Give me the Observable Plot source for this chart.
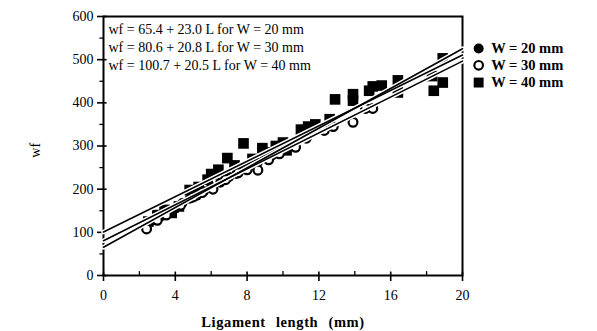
<!DOCTYPE html>
<html>
<head>
<meta charset="utf-8">
<script src="https://cdn.jsdelivr.net/npm/d3@7"></script>
<script src="https://cdn.jsdelivr.net/npm/@observablehq/plot@0.6"></script>
<style>
  html, body { margin: 0; padding: 0; background: white; }
  #chart { width: 597px; height: 331px; }
</style>
</head>
<body>
<div id="chart"></div>
<script>
// ---- data ----
const seriesNames = ["W = 20 mm", "W = 30 mm", "W = 40 mm"];
const equations = [
  "wf = 65.4 + 23.0 L for W = 20 mm",
  "wf = 80.6 + 20.8 L for W = 30 mm",
  "wf = 100.7 + 20.5 L for W = 40 mm"
];
const xTitle = "Ligament length (mm)";
const yTitle = "wf";
const intercepts = [65.4, 80.6, 100.7];
const slopes = [23.0, 20.8, 20.5];
const lineRange = [0, 20];

// W = 20 mm (filled circles)
const w20L  = [2.8, 3.2, 3.6, 4.0, 4.4, 4.8, 5.2, 5.6, 6.0, 6.5, 7.0, 7.4, 7.8, 8.2, 8.6, 9.0, 9.4, 9.8, 10.2];
const w20wf = [128, 137, 148, 155, 168, 178, 185, 195, 205, 215, 228, 235, 248, 255, 262, 272, 278, 290, 298];
// W = 30 mm (open circles)
const w30L  = [2.4, 3.0, 3.5, 4.3, 5.0, 5.5, 6.1, 6.8, 7.5, 8.0, 8.6, 9.2, 9.8, 10.7, 11.3, 12.3, 12.8, 13.9, 14.6, 15.0];
const w30wf = [108, 128, 140, 163, 182, 192, 200, 222, 238, 245, 244, 268, 282, 297, 318, 336, 345, 355, 387, 387];
// W = 40 mm (filled squares)
const w40L  = [2.5, 3.0, 3.4, 3.8, 4.2, 4.8, 5.0, 5.3, 5.8, 6.0, 6.4, 6.9, 7.3, 7.8, 8.3, 8.85, 9.3, 9.6, 10.0, 10.2, 11.0, 11.4, 11.8, 12.6, 12.9, 13.9, 13.9, 14.8, 15.0, 15.5, 16.4, 16.4, 18.3, 18.4, 18.9, 18.9];
const w40wf = [125, 140, 152, 145, 160, 198, 190, 205, 222, 235, 245, 272, 255, 306, 270, 295, 285, 300, 308, 290, 338, 345, 350, 362, 408, 420, 405, 428, 438, 440, 452, 424, 462, 428, 503, 447];

const xMajor = [0, 4, 8, 12, 16, 20];
const xMinor = [2, 6, 10, 14, 18];
const yMajor = [0, 100, 200, 300, 400, 500, 600];
const yMinor = [50, 150, 250, 350, 450, 550];

// ---- tables built from the arrays ----
const pts = (Ls, wfs) => Ls.map((L, i) => ({L, wf: wfs[i]}));
const p20 = pts(w20L, w20wf), p30 = pts(w30L, w30wf), p40 = pts(w40L, w40wf);
const fitLines = intercepts.map((a, i) => lineRange.map(L => ({L, wf: a + slopes[i] * L, s: seriesNames[i]}))).flat();
const legY = [526, 487, 447];
const legRows = seriesNames.map((t, i) => ({t, i, wf: legY[i]}));

const font = "'Liberation Serif', 'DejaVu Serif', serif";

const eqMarks = equations.map((t, i) =>
  Plot.text([t], {x: 0, y: 600, text: d => d, textAnchor: "start", lineAnchor: "top",
    dx: 5, dy: 8 + i * 18, fontSize: 14, fill: "black"}));

const chart = Plot.plot({
  width: 597,
  height: 331,
  marginLeft: 103,
  marginRight: 135,
  marginTop: 16,
  marginBottom: 56,
  x: {domain: [0, 20]},
  y: {domain: [0, 600]},
  style: {fontFamily: font, fontSize: "14px", color: "black", background: "white", overflow: "visible"},
  marks: [
    // axes
    Plot.axisX({ticks: xMajor, tickSize: 6, tickPadding: 9, label: null, fontSize: 14, strokeWidth: 1.6, tickFormat: d => d}),
    Plot.ruleX(xMajor, {x: d => d, y1: 0, y2: 8, strokeWidth: 1.6}),
    Plot.ruleX(xMinor, {x: d => d, y1: 0, y2: 9, strokeWidth: 1.3}),
    Plot.axisY({ticks: yMajor, tickSize: 6, tickPadding: 4, label: null, fontSize: 14, strokeWidth: 1.6, tickFormat: d => d}),
    Plot.ruleY(yMajor, {y: d => d, x1: 0, x2: 0.2, strokeWidth: 1.6}),
    Plot.ruleY(yMinor, {y: d => d, x1: -0.2, x2: 0, strokeWidth: 1.3}),
    Plot.frame({stroke: "black", strokeWidth: 2}),
    // data
    Plot.dot(p40, {x: "L", y: "wf", symbol: "square", r: 6, fill: "black"}),
    Plot.dot(p20, {x: "L", y: "wf", r: 5, fill: "black"}),
    Plot.dot(p30, {x: "L", y: "wf", r: 4.4, fill: "white", stroke: "black", strokeWidth: 2.2}),
    // fitted lines with white casing
    Plot.line(fitLines, {x: "L", y: "wf", z: "s", stroke: "white", strokeWidth: 4.5}),
    Plot.line(fitLines, {x: "L", y: "wf", z: "s", stroke: "black", strokeWidth: 1.6}),
    // equations
    ...eqMarks,
    // legend
    Plot.dot(legRows.filter(d => d.i === 0), {x: 20.9, y: "wf", r: 5, fill: "black"}),
    Plot.dot(legRows.filter(d => d.i === 1), {x: 20.9, y: "wf", r: 4.3, fill: "white", stroke: "black", strokeWidth: 2.2}),
    Plot.dot(legRows.filter(d => d.i === 2), {x: 20.9, y: "wf", symbol: "square", r: 5.6, fill: "black"}),
    Plot.text(legRows, {x: 21.6, y: "wf", text: "t", textAnchor: "start", fontSize: 14.5, fontWeight: "bold", fill: "black"}),
    // axis titles
    Plot.text([xTitle], {x: 10, y: 0, dy: 47, text: d => d,
      fontSize: 14.5, fontWeight: "bold", fill: "black"}),
    Plot.text([yTitle], {x: 0, y: 290, dx: -68, text: d => d, rotate: -90, fontSize: 14, fill: "black"})
  ]
});
d3.select(chart).selectAll("text").filter(function() { return this.textContent === xTitle; })
  .style("letter-spacing", "0.6px").style("word-spacing", "6px");
document.getElementById("chart").appendChild(chart);
</script>
</body>
</html>
